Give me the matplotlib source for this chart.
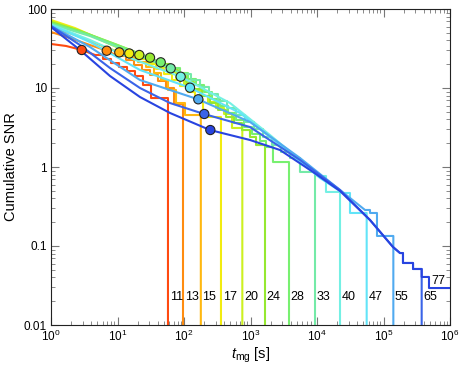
import numpy as np
import matplotlib
matplotlib.use('Agg')
import matplotlib.pyplot as plt
from matplotlib.ticker import LogLocator, FixedLocator, FixedFormatter, NullFormatter

plt.rcParams['font.family'] = ['Liberation Sans', 'DejaVu Sans']
plt.rcParams['mathtext.fontset'] = 'custom'
plt.rcParams['mathtext.rm'] = 'Liberation Sans'
plt.rcParams['mathtext.it'] = 'Liberation Sans:italic'

# ---- data (log10 values) ----
labels = [11, 13, 15, 17, 20, 24, 28, 33, 40, 47, 55, 65, 77]
colors = ['#ff4a10', '#ff8c10', '#ffb810', '#f2ec10', '#cdf020', '#96e830',
          '#78f070', '#74eaa8', '#74f0e4', '#62e4f8', '#50aaf0', '#3a64e8', '#2844e0']

smooth_log_t = [
    [0, 0.226, 0.466, 0.662],
    [0, 0.286, 0.586, 0.838, 1.008],
    [0, 0.361, 0.737, 1.027, 1.188],
    [0, 0.361, 0.737, 1.177, 1.338],
    [0, 0.436, 0.887, 1.328, 1.519],
    [0, 0.436, 0.962, 1.489, 1.669],
    [0, 0.511, 1.113, 1.650, 1.820],
    [0, 0.586, 1.188, 1.800, 1.970],
    [0, 0.586, 1.188, 1.950, 2.692, 3.293, 3.744, 4.015],
    [0, 0.586, 1.338, 2.090, 2.842, 3.444, 4.045, 4.391],
    [0, 0.586, 1.338, 2.211, 2.992, 3.744, 4.346, 4.722],
    [0, 0.436, 0.887, 1.338, 1.789, 2.301, 2.992, 3.744, 4.346, 4.797, 5.143, 5.248],
    [0, 0.436, 0.887, 1.338, 1.789, 2.391, 2.992, 3.444, 3.940, 4.346, 4.797, 5.143, 5.248],
]
smooth_log_snr = [
    [1.557, 1.532, 1.481, 1.418],
    [1.709, 1.633, 1.544, 1.472, 1.405],
    [1.772, 1.671, 1.544, 1.452, 1.380],
    [1.861, 1.759, 1.620, 1.439, 1.367],
    [1.848, 1.722, 1.557, 1.418, 1.329],
    [1.835, 1.722, 1.557, 1.384, 1.304],
    [1.823, 1.696, 1.506, 1.325, 1.253],
    [1.810, 1.658, 1.456, 1.249, 1.177],
    [1.804, 1.608, 1.380, 1.143, 0.810, 0.405, 0.089, -0.114],
    [1.797, 1.582, 1.228, 1.004, 0.684, 0.278, -0.139, -0.329],
    [1.785, 1.519, 1.101, 0.857, 0.570, 0.114, -0.291, -0.544],
    [1.785, 1.544, 1.253, 1.000, 0.810, 0.671, 0.506, 0.089, -0.291, -0.671, -1.013, -1.089],
    [1.772, 1.481, 1.152, 0.886, 0.684, 0.468, 0.342, 0.215, -0.063, -0.304, -0.671, -1.013, -1.089],
]
step_log_t = [
    [0.782, 0.902, 1.023, 1.143, 1.263, 1.383, 1.504],
    [1.128, 1.248, 1.368, 1.489, 1.609, 1.729, 1.850],
    [1.308, 1.429, 1.549, 1.654, 1.759, 1.880, 2.015],
    [1.459, 1.579, 1.699, 1.820, 1.940, 2.060, 2.165, 2.286],
    [1.639, 1.759, 1.880, 2.000, 2.120, 2.241, 2.361, 2.481, 2.602, 2.722],
    [1.789, 1.910, 2.030, 2.150, 2.271, 2.391, 2.511, 2.632, 2.752, 2.872, 2.992, 3.083],
    [1.940, 2.060, 2.180, 2.301, 2.421, 2.541, 2.662, 2.782, 2.902, 3.023, 3.143, 3.233, 3.338],
    [2.105, 2.241, 2.376, 2.511, 2.647, 2.782, 2.917, 3.053, 3.188, 3.323, 3.459, 3.594, 3.744],
    [4.135],
    [4.496],
    [4.797, 4.902],
    [5.293, 5.444],
    [5.293, 5.444, 5.574, 5.684],
]
step_log_snr = [
    [1.367, 1.316, 1.266, 1.215, 1.152, 1.038, 0.873],
    [1.354, 1.291, 1.228, 1.165, 1.089, 1.000, 0.797],
    [1.329, 1.266, 1.190, 1.101, 0.975, 0.810, 0.658],
    [1.304, 1.241, 1.177, 1.101, 1.025, 0.949, 0.848, 0.633],
    [1.266, 1.203, 1.127, 1.051, 0.975, 0.899, 0.823, 0.747, 0.671, 0.494],
    [1.228, 1.152, 1.076, 0.987, 0.899, 0.810, 0.722, 0.633, 0.557, 0.468, 0.380, 0.278],
    [1.190, 1.114, 1.038, 0.949, 0.861, 0.772, 0.684, 0.595, 0.506, 0.418, 0.329, 0.253, 0.063],
    [1.101, 1.013, 0.924, 0.835, 0.747, 0.658, 0.570, 0.481, 0.380, 0.278, 0.190, 0.114, -0.063],
    [-0.316],
    [-0.582],
    [-0.582, -0.873],
    [-1.215, -1.291],
    [-1.215, -1.291, -1.392, -1.532],
]
end_log_t = [1.759, 1.985, 2.253, 2.556, 2.877, 3.218, 3.579, 3.970, 4.346,
             4.747, 5.148, 5.574, None]
circle_log_t = [0.462, 0.838, 1.027, 1.177, 1.328, 1.489, 1.650, 1.800, 1.950,
                2.090, 2.215, 2.305, 2.396]
circle_log_snr = [1.481, 1.472, 1.451, 1.437, 1.418, 1.384, 1.325, 1.249, 1.143,
                  1.004, 0.857, 0.671, 0.468]
label_snr = 0.0223
label77_snr = 0.036

# ---- figure ----
fig = plt.figure(figsize=(4.63, 3.67), dpi=100)
ax = fig.add_axes([51 / 463, 42 / 367, 399 / 463, 316 / 367])
ax.set_xscale('log')
ax.set_yscale('log')
ax.set_xlim(1, 1e6)
ax.set_ylim(0.01, 100)

for i, lab in enumerate(labels):
    t = list(10 ** np.array(smooth_log_t[i], dtype=float))
    s = list(10 ** np.array(smooth_log_snr[i], dtype=float))
    for lt, ls in zip(step_log_t[i], step_log_snr[i]):
        t += [10 ** lt, 10 ** lt]
        s += [s[-1], 10 ** ls]
    if end_log_t[i] is not None:
        te = 10 ** end_log_t[i]
        t += [te, te]
        s += [s[-1], 1e-4]
        ax.annotate(str(lab), (te, label_snr), xytext=(1.2, 0),
                    textcoords='offset points', va='center', ha='left', fontsize=9)
    else:
        xl = t[-1]
        t.append(1e7)
        s.append(s[-1])
        ax.annotate(str(lab), (xl, label77_snr), xytext=(1.5, 0),
                    textcoords='offset points', va='center', ha='left', fontsize=9)
    ax.plot(t, s, color=colors[i], lw=1.5, zorder=2 + i * 0.01)

ax.scatter(10 ** np.array(circle_log_t), 10 ** np.array(circle_log_snr), s=44,
           c=colors, edgecolors='#222222', linewidths=0.8, zorder=5)

ax.yaxis.set_major_locator(FixedLocator([0.01, 0.1, 1, 10, 100]))
ax.yaxis.set_major_formatter(FixedFormatter(['0.01', '0.1', '1', '10', '100']))
ax.yaxis.set_minor_locator(LogLocator(base=10, subs=np.arange(2, 10), numticks=20))
ax.yaxis.set_minor_formatter(NullFormatter())
ax.xaxis.set_major_locator(FixedLocator([1, 10, 1e2, 1e3, 1e4, 1e5, 1e6]))
ax.xaxis.set_major_formatter(FixedFormatter([r'$10^{%d}$' % k for k in range(7)]))
ax.xaxis.set_minor_locator(LogLocator(base=10, subs=np.arange(2, 10), numticks=20))
ax.xaxis.set_minor_formatter(NullFormatter())
ax.tick_params(which='both', direction='in', top=True, right=True, color='#777777',
               labelsize=8.5, pad=3)
ax.tick_params(which='major', length=6, width=0.8)
ax.tick_params(which='minor', length=3, width=0.6)
for sp in ax.spines.values():
    sp.set_linewidth(0.8)
    sp.set_color('#222222')

ax.set_xlabel(r'$t_{\rm mg}$ [s]', fontsize=10.5, labelpad=1)
ax.set_ylabel('Cumulative SNR', fontsize=10.5, labelpad=4)

fig.savefig('out.png', dpi=100)
